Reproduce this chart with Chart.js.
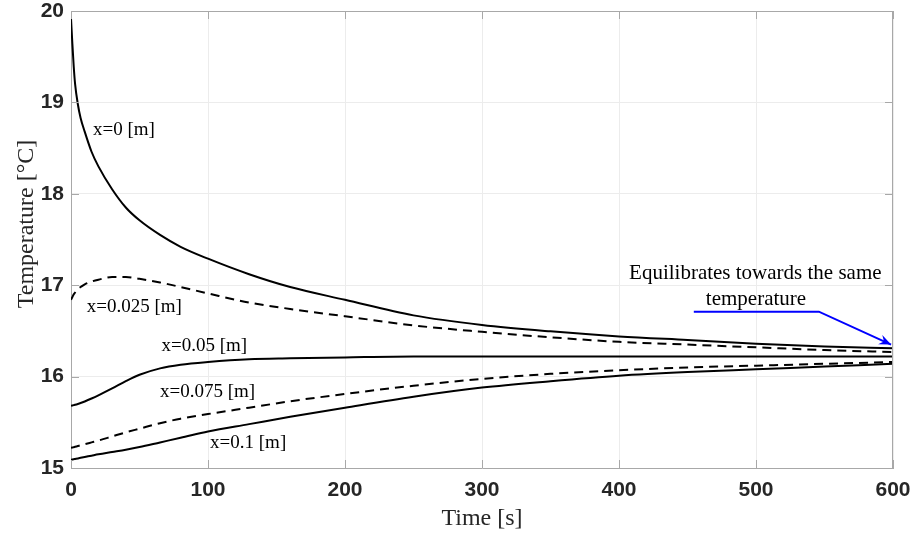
<!DOCTYPE html>
<html>
<head>
<meta charset="utf-8">
<script src="https://cdn.jsdelivr.net/npm/chart.js@4.4.0/dist/chart.umd.min.js"></script>
<style>
  html, body { margin: 0; padding: 0; background: #fff; }
  canvas { display: block; }
</style>
</head>
<body>
<canvas id="mychart" width="914" height="536"></canvas>
<script>
// time [s]
const times = [0, 1, 2, 3, 5, 7, 10, 15, 20, 30, 40, 50, 65, 80, 100, 130, 160, 200, 250, 300, 350, 400, 450, 500, 550, 600];

// temperature [°C] at each depth
const t_x0    = [19.92, 19.64, 19.39, 19.20, 18.98, 18.83, 18.68, 18.46, 18.30, 18.05, 17.85, 17.71, 17.55, 17.42, 17.29, 17.12, 16.98, 16.84, 16.67, 16.565, 16.495, 16.44, 16.40, 16.36, 16.33, 16.31];
const t_x025  = [16.84, 16.87, 16.90, 16.92, 16.96, 16.98, 17.01, 17.04, 17.06, 17.09, 17.09, 17.07, 17.03, 16.98, 16.91, 16.81, 16.74, 16.66, 16.56, 16.49, 16.43, 16.38, 16.35, 16.32, 16.29, 16.27];
const t_x05   = [15.68, 15.684, 15.688, 15.692, 15.701, 15.711, 15.728, 15.76, 15.795, 15.87, 15.95, 16.02, 16.09, 16.13, 16.16, 16.19, 16.20, 16.21, 16.22, 16.22, 16.22, 16.22, 16.22, 16.22, 16.22, 16.22];
const t_x075  = [15.22, 15.224, 15.228, 15.232, 15.24, 15.248, 15.26, 15.28, 15.30, 15.345, 15.39, 15.43, 15.49, 15.54, 15.59, 15.66, 15.73, 15.81, 15.90, 15.975, 16.03, 16.07, 16.10, 16.12, 16.14, 16.16];
const t_x1    = [15.09, 15.093, 15.096, 15.099, 15.105, 15.111, 15.12, 15.135, 15.15, 15.175, 15.20, 15.23, 15.28, 15.33, 15.40, 15.48, 15.56, 15.66, 15.78, 15.88, 15.95, 16.01, 16.05, 16.08, 16.11, 16.14];

const xTicks = [0, 100, 200, 300, 400, 500, 600];
const yTicks = [15, 16, 17, 18, 19, 20];

// curve labels: [text, time, temperature]
const curveLabels = [
    ['x=0 [m]', 16, 18.70],
    ['x=0.025 [m]', 11.5, 16.765],
    ['x=0.05 [m]', 66, 16.34],
    ['x=0.075 [m]', 65, 15.835],
    ['x=0.1 [m]', 101.5, 15.27],
];
const noteLines = [
    ['Equilibrates towards the same', 499.5, 17.13],
    ['temperature', 500, 16.845],
];
const arrowPath = [[454.6, 16.71], [545.9, 16.71], [598.6, 16.35]];

function pts(arr) {
    return times.map((t, i) => ({x: t, y: arr[i]}));
}

const dash = [9, 6];

const extras = {
    id: 'extras',
    afterDraw(chart) {
        const ctx = chart.ctx;
        const a = chart.chartArea;
        const sx = chart.scales.x, sy = chart.scales.y;
        ctx.save();
        // frame + inner ticks
        ctx.strokeStyle = '#a8a8a8';
        ctx.lineWidth = 1;
        ctx.beginPath();
        ctx.moveTo(a.left, a.top + 0.5);
        ctx.lineTo(a.right - 0.5, a.top + 0.5);
        ctx.lineTo(a.right - 0.5, a.bottom);
        xTicks.forEach(v => {
            const px = Math.round(sx.getPixelForValue(v)) + 0.5;
            ctx.moveTo(px, a.bottom); ctx.lineTo(px, a.bottom - 8);
            ctx.moveTo(px, a.top); ctx.lineTo(px, a.top + 8);
        });
        yTicks.forEach(v => {
            const py = Math.round(sy.getPixelForValue(v)) + 0.5;
            ctx.moveTo(a.left, py); ctx.lineTo(a.left + 8, py);
            ctx.moveTo(a.right, py); ctx.lineTo(a.right - 8, py);
        });
        ctx.stroke();

        // curve labels
        ctx.fillStyle = '#000';
        ctx.font = '19px "Liberation Serif"';
        ctx.textAlign = 'left';
        ctx.textBaseline = 'middle';
        curveLabels.forEach(l => {
            ctx.fillText(l[0], sx.getPixelForValue(l[1]), sy.getPixelForValue(l[2]));
        });

        // note + arrow
        ctx.font = '21px "Liberation Serif"';
        ctx.textAlign = 'center';
        noteLines.forEach(l => {
            ctx.fillText(l[0], sx.getPixelForValue(l[1]), sy.getPixelForValue(l[2]));
        });
        const p = arrowPath.map(q => [sx.getPixelForValue(q[0]), sy.getPixelForValue(q[1])]);
        ctx.strokeStyle = '#0000ff';
        ctx.fillStyle = '#0000ff';
        ctx.lineWidth = 2;
        ctx.beginPath();
        ctx.moveTo(p[0][0], p[0][1]);
        ctx.lineTo(p[1][0], p[1][1]);
        ctx.lineTo(p[2][0], p[2][1]);
        ctx.stroke();
        const ang = Math.atan2(p[2][1] - p[1][1], p[2][0] - p[1][0]);
        const hl = 13, hw = 0.4;
        ctx.beginPath();
        ctx.moveTo(p[2][0], p[2][1]);
        ctx.lineTo(p[2][0] - hl * Math.cos(ang - hw), p[2][1] - hl * Math.sin(ang - hw));
        ctx.lineTo(p[2][0] - hl * 0.6 * Math.cos(ang), p[2][1] - hl * 0.6 * Math.sin(ang));
        ctx.lineTo(p[2][0] - hl * Math.cos(ang + hw), p[2][1] - hl * Math.sin(ang + hw));
        ctx.closePath();
        ctx.fill();

        // axis titles
        ctx.fillStyle = '#262626';
        ctx.font = '24px "Liberation Serif"';
        ctx.textAlign = 'center';
        ctx.textBaseline = 'middle';
        ctx.fillText('Time [s]', (a.left + a.right) / 2, 519);
        ctx.translate(27, 224);
        ctx.rotate(-Math.PI / 2);
        ctx.fillText('Temperature [°C]', 0, 0);
        ctx.restore();
    }
};

const line = (label, arr, dashed) => ({
    label: label,
    data: pts(arr),
    borderColor: '#000',
    borderWidth: 2,
    borderDash: dashed ? dash : [],
    pointRadius: 0,
    fill: false,
    cubicInterpolationMode: 'monotone',
});

new Chart(document.getElementById('mychart'), {
    type: 'line',
    data: {
        datasets: [
            line('x=0', t_x0, false),
            line('x=0.025', t_x025, true),
            line('x=0.05', t_x05, false),
            line('x=0.075', t_x075, true),
            line('x=0.1', t_x1, false),
        ],
    },
    options: {
        responsive: false,
        animation: false,
        devicePixelRatio: 1,
        layout: { padding: { top: 11, right: 21, left: 0, bottom: 0 } },
        plugins: { legend: { display: false }, tooltip: { enabled: false } },
        scales: {
            x: {
                type: 'linear',
                min: 0, max: 600,
                afterBuildTicks: s => { s.ticks = xTicks.map(v => ({value: v})); },
                afterFit: s => { s.height = 68; s.paddingLeft = 0; s.paddingRight = 0; },
                grid: { color: '#ececec', drawTicks: false },
                border: { color: '#a8a8a8' },
                ticks: {
                    padding: 10,
                    color: '#262626',
                    font: { family: 'Liberation Sans', size: 21, weight: 'bold' },
                    maxRotation: 0,
                },
            },
            y: {
                min: 15, max: 20,
                afterBuildTicks: s => { s.ticks = yTicks.map(v => ({value: v})); },
                afterFit: s => { s.width = 71; s.paddingTop = 0; s.paddingBottom = 0; },
                grid: { color: '#ececec', drawTicks: false },
                border: { color: '#a8a8a8' },
                ticks: {
                    padding: 7,
                    color: '#262626',
                    font: { family: 'Liberation Sans', size: 21, weight: 'bold' },
                },
            },
        },
    },
    plugins: [extras],
});
</script>
</body>
</html>
